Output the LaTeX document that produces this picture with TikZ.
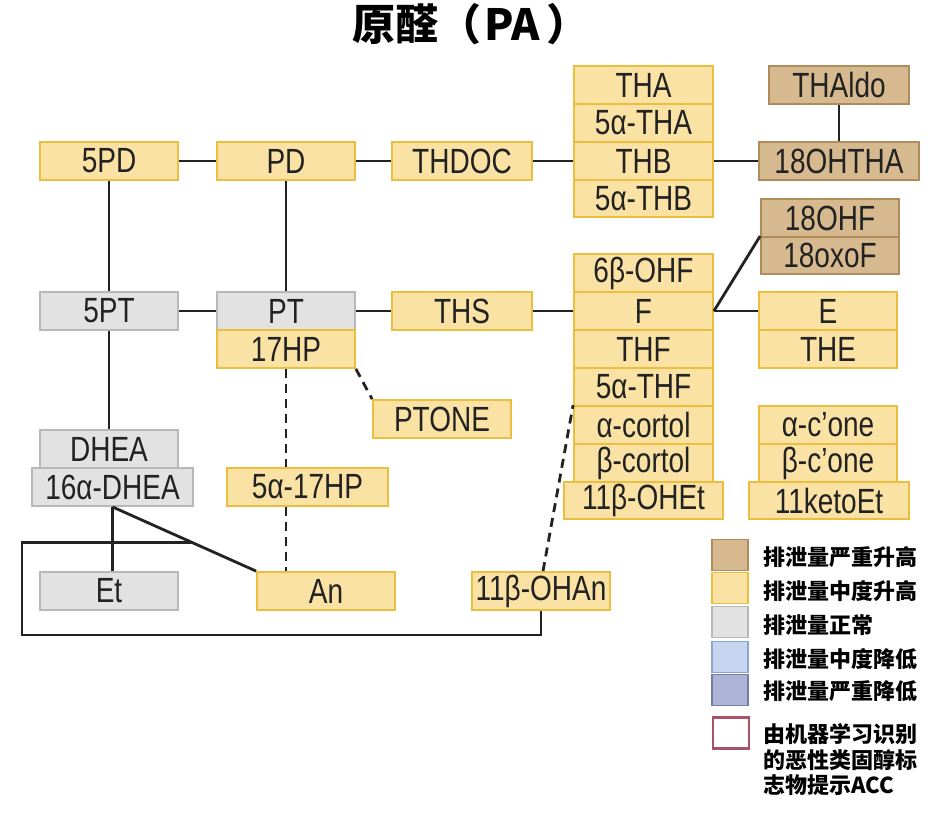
\documentclass[tikz,border=0pt]{standalone}
\usepackage{fontspec}
\usetikzlibrary{calc}
\newfontfamily\boxfont{Liberation Sans}[FakeStretch=0.8]
\newfontfamily\cjk{Noto Sans CJK SC}
\definecolor{yfill}{RGB}{250,226,164}
\definecolor{yline}{RGB}{234,190,62}
\definecolor{bfill}{RGB}{214,185,142}
\definecolor{bline}{RGB}{176,140,92}
\definecolor{gfill}{RGB}{226,226,226}
\definecolor{gline}{RGB}{184,184,184}
\definecolor{lbfill}{RGB}{198,214,240}
\definecolor{lbline}{RGB}{140,164,208}
\definecolor{dbfill}{RGB}{174,180,214}
\definecolor{dbline}{RGB}{116,124,170}
\definecolor{mline}{RGB}{168,84,104}
\definecolor{ink}{RGB}{34,34,34}
\begin{document}
\begin{tikzpicture}[x=1pt,y=-1pt,
  box/.style={line width=1.8pt, minimum height=38pt, inner sep=0pt, text=ink,
    font=\boxfont\fontsize{35}{35}\selectfont},
  ybox/.style={box, draw=yline, fill=yfill},
  bbox/.style={box, draw=bline, fill=bfill},
  gbox/.style={box, draw=gline, fill=gfill},
  w138/.style={minimum width=138pt},
  w140/.style={minimum width=140pt},
  w160/.style={minimum width=160pt},
  link/.style={draw=ink, line width=2.8pt},
  dlink/.style={draw=ink, line width=2.8pt, dash pattern=on 9pt off 6pt},
  legsq/.style={minimum width=36pt, minimum height=31pt, inner sep=0pt, line width=1.6pt},
  legtext/.style={anchor=west, inner sep=0pt, text=black, font=\cjk\bfseries\fontsize{22}{22}\selectfont},
]
\useasboundingbox (0,0) rectangle (942,815);

% title
\node[font=\cjk\bfseries\fontsize{43}{43}\selectfont, text=black] (title) at (471,24) {原醛（\hspace{3pt}PA\hspace{7pt}）};

% top row
\node[ybox,w138] (5PD) at (109,161) {5PD};
\node[ybox,w138] (PD) at (286,161) {PD};
\node[ybox,w140] (THDOC) at (462,161) {THDOC};
\node[ybox,minimum width=139pt] (THA) at (643.5,85) {THA};
\node[ybox,minimum width=139pt] (5aTHA) at (643.5,123) {5α-THA};
\node[ybox,minimum width=139pt] (THB) at (643.5,161) {THB};
\node[ybox,minimum width=139pt,minimum height=37pt] (5aTHB) at (643.5,198.5) {5α-THB};
\node[bbox,w140] (THAldo) at (839,85) {THAldo};
\node[bbox,w160] (18OHTHA) at (839,161) {18OHTHA};

% right column
\node[bbox,w138] (18OHF) at (830,218) {18OHF};
\node[bbox,w138,minimum height=37pt] (18oxoF) at (830,255.5) {18oxoF};
\node[ybox,minimum width=139pt] (6bOHF) at (643.5,273) {6β-OHF};
\node[ybox,minimum width=139pt] (F) at (643.5,311) {F};
\node[ybox,minimum width=139pt] (THF) at (643.5,349) {THF};
\node[ybox,minimum width=139pt] (5aTHF) at (643.5,387) {5α-THF};
\node[ybox,minimum width=139pt] (acortol) at (643.5,425) {α-cortol};
\node[ybox,minimum width=139pt] (bcortol) at (643.5,463) {β-cortol};
\node[ybox,minimum width=159pt,minimum height=37pt] (11bOHEt) at (643.5,500.5) {11β-OHEt};
\node[ybox,w138] (E) at (828,311) {E};
\node[ybox,w138] (THE) at (828,349) {THE};
\node[ybox,w138] (acone) at (828,425) {α-c’one};
\node[ybox,w138] (bcone) at (828,463) {β-c’one};
\node[ybox,w160,minimum height=37pt] (11ketoEt) at (829,500.5) {11ketoEt};

% middle / left
\node[gbox,w138] (5PT) at (109,311) {5PT};
\node[gbox,w138] (PT) at (286,311) {PT};
\node[ybox,w138] (17HP) at (286,349) {17HP};
\node[ybox,w140] (THS) at (462,311) {THS};
\node[ybox,w138] (PTONE) at (442,419) {PTONE};
\node[gbox,w138] (DHEA) at (109,449) {DHEA};
\node[gbox,minimum width=161pt] (16aDHEA) at (112.5,487) {16α-DHEA};
\node[ybox,minimum width=161pt] (5a17HP) at (307.5,487) {5α-17HP};
\node[gbox,w138] (Et) at (109,591) {Et};
\node[ybox,w138] (An) at (326,591) {An};
\node[ybox,w138] (11bOHAn) at (541,591) {11β-OHAn};

% connectors
\draw[link] (5PD) -- (PD);
\draw[link] (PD) -- (THDOC);
\draw[link] (THDOC) -- (THB);
\draw[link] (THB) -- (18OHTHA);
\draw[link] (THAldo) -- (18OHTHA);
\draw[link] (5PD) -- (5PT);
\draw[link] (PD) -- (PT);
\draw[link] (5PT) -- (PT);
\draw[link] (PT) -- (THS);
\draw[link] (THS) -- (F);
\draw[link] (F) -- (E);
\draw[link] (F.east) -- (18oxoF.north west);
\draw[link] (5PT) -- (DHEA);
\draw[dlink] (17HP.south) -- (17HP.south |- 5a17HP.north);
\draw[dlink] (5a17HP.south -| 17HP.south) -- (An.north -| 17HP.south);
\draw[dlink] (17HP.south east) -- (PTONE.north west);
\draw[dlink] ($(11bOHAn.north)+(2,0)$) -- (acortol.north west);
\draw[link] (16aDHEA.south) -- (16aDHEA.south |- Et.north);
\draw[link] (16aDHEA.south) -- (An.north west);
\coordinate (P) at ($(16aDHEA.south)!0.56!(An.north west)$);
\coordinate (rl) at (22,635);
\draw[link] (11bOHAn.south) |- (rl) |- (P);

% legend
\node[legsq, draw=bline, fill=bfill] (L1) at (730,555) {};
\node[legsq, draw=yline, fill=yfill] (L2) at (730,588) {};
\node[legsq, draw=gline, fill=gfill] (L3) at (730,622) {};
\node[legsq, draw=lbline, fill=lbfill] (L4) at (730,657) {};
\node[legsq, draw=dbline, fill=dbfill] (L5) at (730,690) {};
\node[legsq, draw=mline, fill=white, line width=2.4pt] (L6) at (731,733) {};
\node[legtext] (T1) at (763,557) {排泄量严重升高};
\node[legtext] (T2) at (763,591) {排泄量中度升高};
\node[legtext] (T3) at (763,625) {排泄量正常};
\node[legtext] (T4) at (763,659) {排泄量中度降低};
\node[legtext] (T5) at (763,691) {排泄量严重降低};
\node[legtext] (T6) at (763,734) {由机器学习识别};
\node[legtext] (T7) at (763,760) {的恶性类固醇标};
\node[legtext] (T8) at (763,785) {志物提示ACC};
\end{tikzpicture}
\end{document}
